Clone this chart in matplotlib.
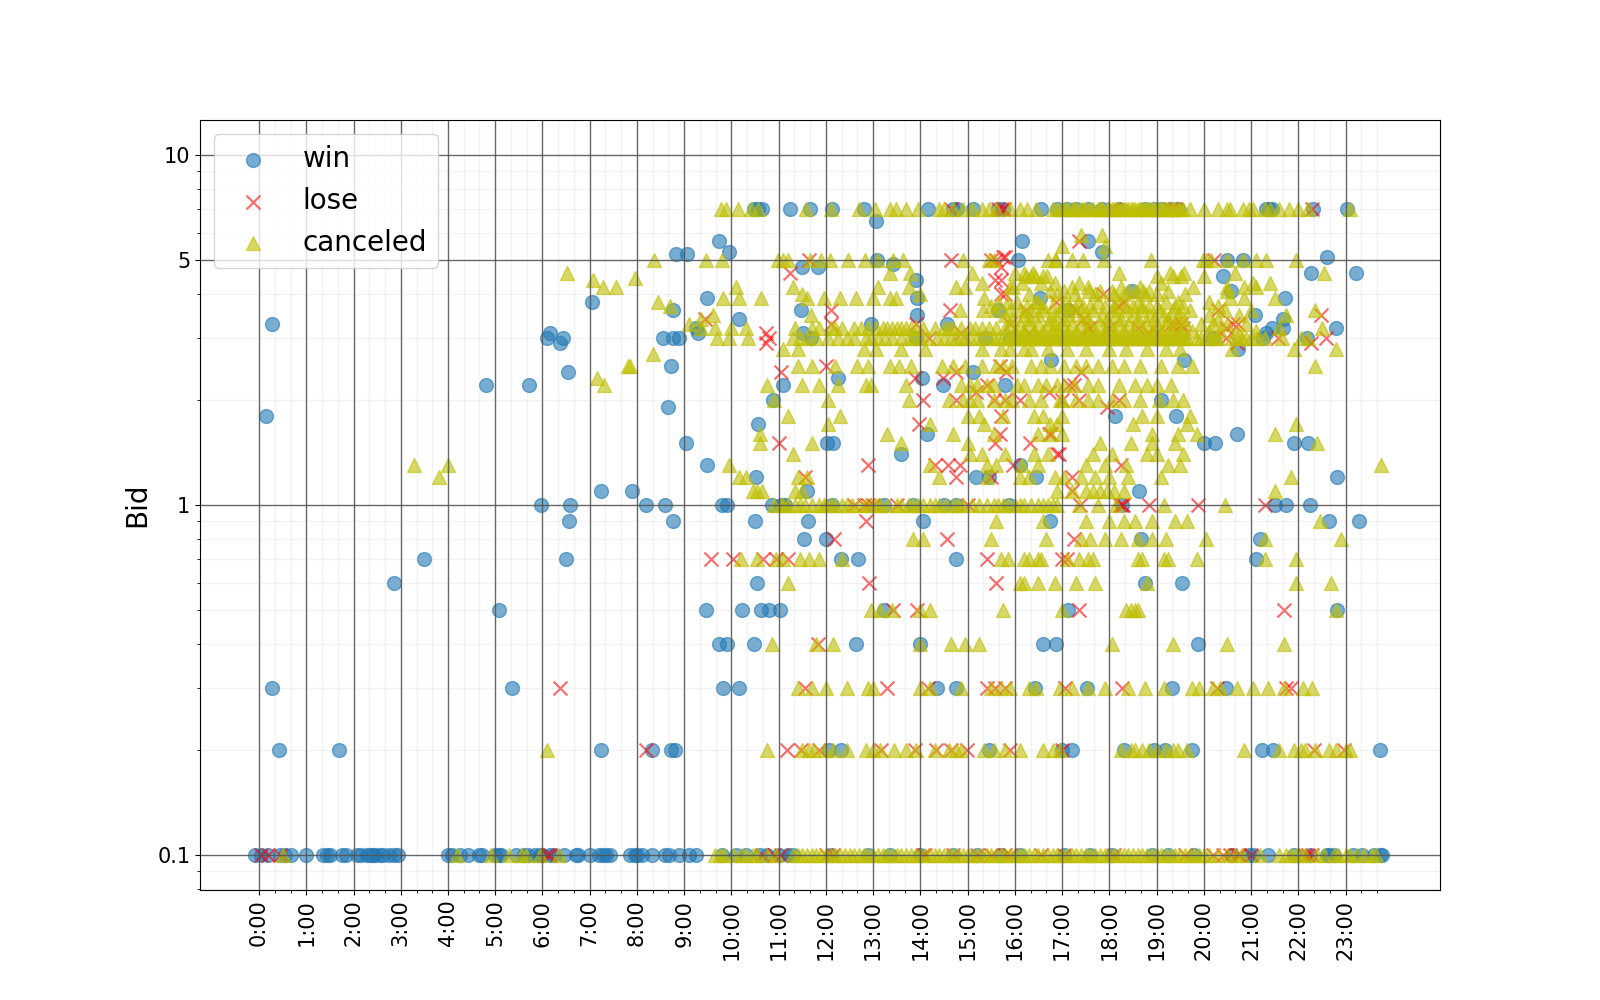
import matplotlib
matplotlib.use("Agg")
import matplotlib.pyplot as plt
from matplotlib.ticker import FixedLocator, FixedFormatter, NullFormatter

hour_labels = ["%d:00" % h for h in range(24)]

# ---- win: hours of day at each bid level
w_700 = [10.47,10.56,10.65,11.25,11.66,12.12,12.81,14.17,14.7,14.78,15.12,15.64,15.75,16.55,16.9,17.1,17.3,17.55,17.85,18.2,18.75,18.95,19.1,19.3,19.45,21.32,21.38,21.45,22.31,23.03]
w_650 = [13.05]
w_570 = [9.74,16.16,17.54]
w_530 = [9.94,17.84]
w_520 = [8.83,9.05]
w_510 = [22.61]
w_500 = [13.09,16.07,20.5,20.82]
w_490 = [13.43]
w_480 = [11.49,11.84]
w_460 = [22.27,23.22]
w_450 = [20.41]
w_440 = [13.91]
w_410 = [18.49,20.58]
w_390 = [9.48,13.93,16.54,21.71]
w_380 = [7.04]
w_360 = [8.77,11.47,15.64,17.13]
w_350 = [13.93,21.08]
w_340 = [10.15,21.68]
w_330 = [0.28,12.96,14.56]
w_320 = [9.24,21.45,21.68,22.79]
w_310 = [6.15,9.29,11.51,21.32]
w_300 = [6.09,6.43,8.55,8.77,8.9,11.68,13.91,15.36,15.9,20.2,21.25,22.18]
w_290 = [6.37]
w_280 = [20.73]
w_260 = [16.76,19.59]
w_250 = [8.73]
w_240 = [6.54,15.12]
w_230 = [12.25,14.04]
w_220 = [4.8,5.72,11.1,14.47,15.79]
w_200 = [10.89,19.09]
w_190 = [8.66]
w_180 = [0.15,18.12,19.42]
w_170 = [10.56]
w_160 = [14.13,20.71]
w_150 = [9.03,12.03,12.16,20.0,20.24,21.9,22.2]
w_140 = [13.59]
w_130 = [9.48,16.11]
w_120 = [10.52,15.18,15.46,16.44,22.83]
w_110 = [7.24,7.9,11.6,18.62]
w_100 = [5.96,6.59,8.19,8.6,9.8,9.9,10.86,11.04,11.14,12.12,13.24,13.84,14.49,14.75,15.87,18.27,21.51,21.75,22.25]
w_090 = [6.56,8.77,10.5,11.62,14.06,16.74,22.66,23.28]
w_080 = [11.53,12.0,18.68,21.19]
w_070 = [3.5,6.5,12.31,12.68,14.75,21.1]
w_060 = [2.85,10.54,18.75,19.53]
w_050 = [5.08,9.46,10.22,10.63,10.8,11.02,13.24,17.13,22.83]
w_040 = [9.74,9.91,10.47,12.63,14.0,16.59,16.87,19.87]
w_030 = [0.28,5.35,9.83,10.17,14.36,14.75,16.42,17.52,19.33,20.47]
w_020 = [0.43,1.7,7.24,8.32,8.73,8.81,12.07,12.33,15.46,17.0,17.21,18.31,18.94,19.18,19.74,21.23,21.47,23.74]
w_010 = [-0.08,0.05,0.2,0.45,0.55,0.68,1.0,1.35,1.43,1.5,1.75,1.85,2.08,2.15,2.28,2.35,2.42,2.45,2.55,2.62,2.75,2.85,2.95,
 4.0,4.08,4.25,4.42,4.65,4.72,5.0,5.08,5.12,5.45,5.6,5.7,5.85,5.95,6.0,6.15,6.25,6.45,6.7,6.75,7.0,7.2,7.28,7.35,7.42,7.85,7.95,8.0,
 8.1,8.32,8.6,8.68,8.9,9.1,9.25,9.8,10.1,10.3,10.6,10.75,11.0,11.2,11.3,12.1,12.9,13.35,14.0,14.7,15.2,15.7,16.1,17.05,17.6,18.05,
 18.9,19.25,19.8,20.6,20.95,21.05,21.35,21.9,22.25,22.6,22.65,22.75,23.15,23.35,23.6,23.72,23.78]

win_rows = [(w_700,7),(w_650,6.5),(w_570,5.7),(w_530,5.3),(w_520,5.2),(w_510,5.1),(w_500,5),(w_490,4.9),(w_480,4.8),(w_460,4.6),(w_450,4.5),(w_440,4.4),
 (w_410,4.1),(w_390,3.9),(w_380,3.8),(w_360,3.6),(w_350,3.5),(w_340,3.4),(w_330,3.3),(w_320,3.2),(w_310,3.1),(w_300,3),(w_290,2.9),(w_280,2.8),(w_260,2.6),
 (w_250,2.5),(w_240,2.4),(w_230,2.3),(w_220,2.2),(w_200,2),(w_190,1.9),(w_180,1.8),(w_170,1.7),(w_160,1.6),(w_150,1.5),(w_140,1.4),(w_130,1.3),(w_120,1.2),
 (w_110,1.1),(w_100,1),(w_090,.9),(w_080,.8),(w_070,.7),(w_060,.6),(w_050,.5),(w_040,.4),(w_030,.3),(w_020,.2),(w_010,.1)]

# ---- lose
l_700 = [14.65,15.65,15.72,15.78,18.1,19.3,19.4,22.3]
l_570 = [17.35]
l_510 = [15.75,15.8]
l_500 = [11.65,14.65,15.5,15.6,20.22]
l_480 = [15.7]
l_460 = [11.23]
l_440 = [15.57,15.7]
l_400 = [15.7,15.8,17.86]
l_380 = [16.88,18.3]
l_370 = [18.18]
l_360 = [12.1,14.62,16.24,17.3,20.29]
l_350 = [22.48]
l_340 = [9.43,17.44]
l_330 = [12.1,13.9,15.9,19.4,19.52,20.61,20.72,19.3]
l_320 = [20.47,17.6,18.0,18.6,17.55,19.55]
l_310 = [10.74,14.87,16.3,18.85,19.0]
l_300 = [10.8,14.19,20.47,21.56,22.59]
l_290 = [10.74,20.7,22.27]
l_250 = [12.0,15.68]
l_240 = [11.05,14.76,15.82,17.4]
l_230 = [13.88,14.48]
l_220 = [15.4,17.15,17.26]
l_210 = [15.18,16.73]
l_200 = [14.05,14.76,15.55,15.8,16.1,17.0,17.36,18.21]
l_190 = [17.96]
l_180 = [15.71]
l_170 = [13.98]
l_160 = [15.68,16.73,16.77]
l_150 = [11.0,15.57,16.31]
l_140 = [16.9,16.93]
l_130 = [12.9,14.3,14.58,14.83,15.96,18.25]
l_120 = [11.55,14.76,15.5,17.2]
l_110 = [17.2]
l_100 = [12.6,12.8,12.9,13.0,13.5,15.0,17.37,18.23,18.26,18.28,18.85,19.88,21.3]
l_090 = [12.85]
l_080 = [12.18,14.56,17.25]
l_070 = [9.57,10.04,10.67,10.95,11.19,15.4,17.0,17.1]
l_060 = [12.92,15.6]
l_050 = [13.43,13.93,17.36,21.7]
l_040 = [11.83]
l_030 = [6.37,11.55,13.3,14.17,15.42,15.57,15.79,17.06,18.27,20.28,21.75,21.84]
l_020 = [8.19,11.17,11.47,11.86,13.17,13.89,14.34,14.64,14.99,15.9,17.0,22.33,22.96]
l_010 = [0.05,0.2,0.45,6.1,6.15,10.65,10.9,11.05,12.0,12.15,14.05,14.1,14.7,15.2,15.5,15.8,15.9,16.55,17.05,18.1,19.6,20.2,20.4,20.55,20.7,20.75,21.0,22.15,22.2,22.3]

lose_rows = [(l_700,7),(l_570,5.7),(l_510,5.1),(l_500,5),(l_480,4.8),(l_460,4.6),(l_440,4.4),(l_400,4),(l_380,3.8),(l_370,3.7),(l_360,3.6),(l_350,3.5),(l_340,3.4),
 (l_330,3.3),(l_320,3.2),(l_310,3.1),(l_300,3),(l_290,2.9),(l_250,2.5),(l_240,2.4),(l_230,2.3),(l_220,2.2),(l_210,2.1),(l_200,2),(l_190,1.9),(l_180,1.8),(l_170,1.7),
 (l_160,1.6),(l_150,1.5),(l_140,1.4),(l_130,1.3),(l_120,1.2),(l_110,1.1),(l_100,1),(l_090,.9),(l_080,.8),(l_070,.7),(l_060,.6),(l_050,.5),(l_040,.4),(l_030,.3),(l_020,.2),(l_010,.1)]

# ---- canceled, one list per price row
c_early_hours = [3.27,3.8,3.99,6.52,7.08,7.28,7.55,7.95,8.45,8.7,8.35,7.8,7.85,7.15,7.3,9.1,9.35,23.75,6.1]
c_early_bids = [1.3,1.2,1.3,4.6,4.4,4.2,4.2,4.45,3.8,3.7,2.7,2.5,2.5,2.3,2.2,3.3,3.4,1.3,0.2]
c_700 = [9.78,9.89,10.14,10.42,10.56,11.58,12.11,12.71,13.03,13.35,13.49,13.7,13.95,14.4,14.5,14.7,14.9,15.1,15.3,15.45,15.6,15.9,16.1,16.25,
 16.45,16.8,16.9,17.0,17.05,17.1,17.2,17.25,17.3,17.4,17.45,17.5,17.6,17.65,17.75,17.8,17.85,17.95,18.0,18.05,18.1,18.15,18.2,18.25,18.3,18.35,18.4,18.45,
 18.5,18.55,18.6,18.65,18.7,18.75,18.8,18.85,18.9,18.95,19.0,19.05,19.1,19.15,19.2,19.25,19.3,19.35,19.4,19.45,19.5,19.55,19.7,20.0,20.3,20.5,20.55,20.82,
 20.95,21.05,21.3,21.4,21.6,21.8,22.0,22.2,23.1]
c_590 = [17.4,17.85]
c_550 = [17.0,17.9]
c_500 = [8.36,9.47,9.79,10.98,11.1,11.2,11.66,11.9,12.08,12.47,12.82,13.1,13.42,13.63,14.9,15.46,15.55,16.7,16.84,16.88,17.22,17.44,17.89,18.88,19.98,20.05,20.16,20.5,20.82,21.1,21.32,21.95]
c_460 = [13.35,13.77,15.1,16.0,16.2,16.38,18.2,19.28,19.59,20.65,22.55]
c_450 = [16.24,16.35,16.42,16.6,16.67,19.0,19.35,19.52,20.0]
c_430 = [15.3,16.15,16.55,16.85,17.35,19.1,21.05,21.4]
c_420 = [10.1,11.3,13.1,13.75,14.75,14.95,15.9,15.96,17.2,17.55,18.25,18.65,19.77,20.5,20.85,21.1]
c_410 = [16.75,17.05,17.58,17.8,18.05,18.4,18.54,18.71,18.85,19.25,20.5]
c_400 = [11.5,14.0,16.3,16.9,17.27,17.7,18.1,18.3,18.75,19.0,19.6]
c_390 = [9.82,10.17,10.63,11.6,11.97,12.29,12.64,12.99,13.35,13.49,15.35,20.55,20.85,21.5]
c_380 = [15.65,15.85,16.05,16.45,16.49,17.06,17.34,17.75,18.2,18.6,19.2,19.45,20.1]
c_370 = [15.5,16.25,16.6,16.8,17.0,17.15,17.45,17.6,17.9,18.1,18.35,18.5,18.7,18.85,19.0,19.4,19.55,20.3]
c_360 = [14.83,15.32,15.6,15.9,16.1,16.35,16.6,16.95,17.3,17.65,18.05,18.35,18.7,19.05,19.35,19.7,20.45,21.0,22.35]
c_350 = [9.6,11.69,15.8,16.2,16.5,16.85,17.15,17.45,17.85,18.15,18.5,18.85,19.15,19.45,20.1,20.75,21.75]
c_340 = [15.95,16.3,16.75,17.05,17.55,17.95,18.25,18.6,18.95,19.25,19.55,20.3]
c_330 = [15.9,16.1,16.3,16.5,16.7,16.85,17.0,17.2,17.4,17.6,17.8,18.0,18.2,18.4,18.6,18.8,19.0,19.2,19.4,19.6,19.95,20.2,20.5,20.9]
c_320 = [9.35,9.65,10.0,10.3,11.35,11.7,11.85,12.1,12.2,12.35,12.6,12.75,12.9,13.05,13.2,13.3,13.4,13.5,13.6,13.7,13.8,13.9,14.05,14.3,14.5,14.6,14.7,14.85,15.05,15.15,15.3,15.45,15.6,15.8,21.6,22.5]
c_315 = [16.0,16.2,16.4,16.6,16.8,16.9,17.1,17.3,17.5,17.7,17.9,18.1,18.3,18.5,18.7,18.9,19.1,19.3,19.5,19.75,20.1,20.35,20.7,21.1]
c_300 = [9.7,9.95,10.35,11.3,11.45,11.6,11.8,12.05,12.25,12.45,12.6,12.85,12.95,13.1,13.25,13.4,13.6,13.75,13.85,14.0,14.15,14.35,14.5,14.65,14.75,14.85,14.95,15.05,15.2,15.3,15.45,15.55,15.65,15.75,15.85,
 15.9,15.95,16.0,16.05,16.1,16.15,16.2,16.25,16.3,16.35,16.4,16.45,16.5,16.55,16.6,16.65,16.7,16.75,16.8,16.85,16.9,16.95,17.0,17.05,17.1,17.15,17.2,17.25,17.3,17.35,17.4,17.45,17.5,17.55,17.6,
 17.65,17.7,17.75,17.8,17.85,17.9,17.95,18.0,18.05,18.1,18.15,18.2,18.25,18.3,18.35,18.4,18.45,18.5,18.55,18.6,18.65,18.7,18.75,18.8,18.85,18.9,18.95,19.0,19.05,19.1,19.15,19.2,19.25,19.3,19.35,19.4,19.45,19.5,19.55,19.6,19.65,
 19.85,19.95,20.05,20.15,20.25,20.3,20.6,20.7,20.8,20.9,21.0,21.1,21.3,21.65,22.05,22.2]
c_280 = [11.1,11.4,12.8,13.05,13.6,14.1,15.3,15.7,15.9,16.2,16.35,16.7,17.1,17.5,18.0,18.35,18.8,19.2,19.5,20.6,21.9,22.8]
c_250 = [11.4,11.7,12.2,12.65,12.9,13.35,13.55,13.8,14.45,14.7,14.95,15.3,15.6,15.75,15.95,16.35,16.55,16.75,17.05,17.3,17.5,17.75,18.05,18.3,18.65,19.1,19.45,19.75,22.35]
c_220 = [10.75,11.5,11.85,12.25,12.85,12.95,13.7,14.85,15.05,15.2,15.4,15.55,16.05,16.2,16.5,16.65,16.9,17.05,17.25,17.55,17.75,18.2,18.55,18.8,19.0,19.3]
c_200 = [10.9,12.05,13.75,14.6,14.9,15.05,15.2,15.55,15.8,15.95,16.3,16.55,16.95,17.0,17.3,17.55,17.75,18.05,18.3,18.65,19.05,19.35,19.55]
c_180 = [11.2,12.3,15.0,15.25,15.75,16.4,16.6,17.0,18.7,19.0,19.7]
c_170 = [12.05,14.2,15.35,16.75,16.9,18.5,19.65,21.95]
c_160 = [10.6,13.3,14.7,15.55,16.5,16.75,17.0,18.9,19.45,19.85,21.5]
c_150 = [10.6,11.7,13.6,15.0,17.8,18.45,18.9,19.4,22.4]
c_140 = [11.3,15.05,15.3,15.8,16.4,16.7,17.65,18.05,18.8,19.0,19.55]
c_130 = [9.95,14.2,15.4,15.6,16.15,16.5,17.5,17.9,18.35,19.25,19.5]
c_120 = [10.15,10.3,11.4,11.6,14.4,15.4,16.1,16.3,16.85,17.05,17.4,17.7,18.0,18.4,19.1,21.85]
c_110 = [10.45,10.55,10.65,11.35,11.5,16.9,17.2,17.5,17.65,17.8,17.95,18.1,18.3,21.5]
c_100 = [10.9,11.05,11.1,11.2,11.35,11.45,11.55,11.7,11.85,11.95,12.0,12.1,12.2,12.35,12.45,12.55,12.7,12.85,12.95,13.05,13.15,13.3,13.5,13.6,13.75,13.85,13.95,14.05,14.2,14.3,14.4,14.55,14.7,14.8,14.9,15.1,15.25,15.4,15.55,15.65,15.75,15.85,16.0,16.1,16.2,16.35,16.5,16.6,16.7,16.8,16.9,17.35,17.75,18.15,19.15,20.45]
c_090 = [15.6,16.6,17.5,18.0,18.3,18.55,18.9,19.4,19.65,22.45]
c_080 = [13.85,14.05,15.5,16.65,17.4,17.6,17.9,18.25,18.6,18.9,19.2,20.05,21.3,22.9]
c_070 = [10.2,10.55,10.95,11.1,11.45,11.65,11.85,12.35,15.7,15.85,16.2,16.3,16.5,16.55,17.1,17.35,17.55,17.65,18.6,18.7,19.15,19.25,19.85,21.3,21.95]
c_060 = [11.2,16.1,16.2,16.5,16.85,17.3,17.7,18.8,21.95,22.7]
c_050 = [12.95,13.15,13.4,14.0,14.2,15.75,17.0,18.35,18.45,18.55,18.6,22.8]
c_040 = [10.85,11.8,12.15,14.0,14.65,14.95,15.25,18.05,19.35,20.5,21.7]
c_030 = [11.4,11.7,12.0,12.45,12.9,13.0,14.0,14.2,14.85,15.5,15.7,15.9,16.3,16.45,16.95,17.2,17.55,17.9,18.4,18.75,19.15,19.75,19.9,20.2,20.35,20.7,21.05,21.35,21.7,22.1,22.3]
c_020 = [10.75,11.5,11.65,11.75,11.95,12.15,12.45,12.85,13.0,13.15,13.45,13.7,13.9,14.3,14.6,14.75,14.85,15.35,15.55,15.8,16.1,16.6,16.8,16.95,18.25,18.45,18.55,18.7,18.85,19.0,19.2,19.35,19.45,19.65,20.85,21.6,21.9,22.05,22.15,22.35,22.65,22.8,23.0,23.1]
c_010 = [0.5,4.2,4.9,5.3,5.55,5.65,5.95,6.35,9.65,9.75,9.85,10.05,10.2,10.3,10.45,10.55,10.75,10.95,11.3,11.4,11.5,11.6,11.7,11.8,11.9,12.0,12.1,12.2,12.3,12.4,12.5,12.6,12.7,12.8,12.9,13.0,13.1,13.2,13.3,13.4,13.5,13.6,13.7,13.8,13.9,
 14.0,14.1,14.2,14.3,14.4,14.5,14.6,14.7,14.8,14.9,15.0,15.1,15.2,15.3,15.4,15.5,15.6,15.7,15.8,15.9,16.0,16.1,16.2,16.3,16.4,16.5,16.6,16.7,16.8,16.9,17.0,17.1,17.2,17.3,17.4,17.5,17.6,17.7,17.8,17.9,18.0,18.1,18.2,18.3,18.4,18.5,18.6,18.7,18.8,18.9,19.0,19.1,19.2,19.3,19.4,19.5,
 19.6,19.7,19.8,19.9,20.0,20.1,20.3,20.5,20.65,20.8,21.2,21.6,21.75,21.85,21.95,22.05,22.15,22.4,22.55,22.75,22.85,23.0,23.1,23.25,23.4,23.55,23.65]

canceled_rows = [(c_700,7),(c_590,5.9),(c_550,5.5),(c_500,5),(c_460,4.6),(c_450,4.5),(c_430,4.3),(c_420,4.2),(c_410,4.1),(c_400,4),(c_390,3.9),(c_380,3.8),(c_370,3.7),(c_360,3.6),(c_350,3.5),(c_340,3.4),
 (c_330,3.3),(c_320,3.2),(c_315,3.15),(c_300,3),(c_280,2.8),(c_250,2.5),(c_220,2.2),(c_200,2),
 (c_180,1.8),(c_170,1.7),(c_160,1.6),(c_150,1.5),(c_140,1.4),(c_130,1.3),(c_120,1.2),(c_110,1.1),(c_100,1),(c_090,.9),(c_080,.8),(c_070,.7),(c_060,.6),
 (c_050,.5),(c_040,.4),(c_030,.3),(c_020,.2),(c_010,.1)]


def flatten(rows):
    xs, ys = [], []
    for hours, bid in rows:
        xs += hours
        ys += [bid] * len(hours)
    return xs, ys


win_x, win_y = flatten(win_rows)
lose_x, lose_y = flatten(lose_rows)
canceled_x, canceled_y = flatten(canceled_rows)
canceled_x += c_early_hours
canceled_y += c_early_bids

plt.rcParams['font.family'] = 'DejaVu Sans'
fig, ax = plt.subplots(figsize=(16, 10), dpi=100)
ax.scatter(win_x, win_y, s=100, c='C0', marker='o', alpha=0.6, label='win')
ax.scatter(lose_x, lose_y, s=100, c='r', marker='x', alpha=0.6, label='lose')
ax.scatter(canceled_x, canceled_y, s=100, c='y', marker='^', alpha=0.6, label='canceled')

ax.set_yscale('log')
ax.set_xlim(-1.25, 25)
ax.set_ylim(0.0794, 12.6)
ax.xaxis.set_major_locator(FixedLocator(list(range(24))))
ax.xaxis.set_major_formatter(FixedFormatter(hour_labels))
ax.xaxis.set_minor_locator(FixedLocator([h + m / 60 for h in range(24) for m in (20, 40)]))
ax.xaxis.set_minor_formatter(NullFormatter())
ax.yaxis.set_major_locator(FixedLocator([0.1, 1, 5, 10]))
ax.yaxis.set_major_formatter(FixedFormatter(['0.1', '1', '5', '10']))
ax.yaxis.set_minor_locator(FixedLocator([.08, .09, .2, .3, .4, .5, .6, .7, .8, .9, 2, 3, 4, 6, 7, 8, 9]))
ax.yaxis.set_minor_formatter(NullFormatter())
ax.tick_params(axis='x', which='major', labelsize=15, labelrotation=90)
ax.tick_params(axis='y', which='major', labelsize=15)
ax.grid(which='major', color='#555555', linewidth=1.0, alpha=0.9)
ax.grid(which='minor', color='#b0b0b0', linewidth=1.0, alpha=0.14)
ax.set_ylabel('Bid', fontsize=20)
ax.legend(loc='upper left', fontsize=20)
fig.savefig('out.png', dpi=100)
